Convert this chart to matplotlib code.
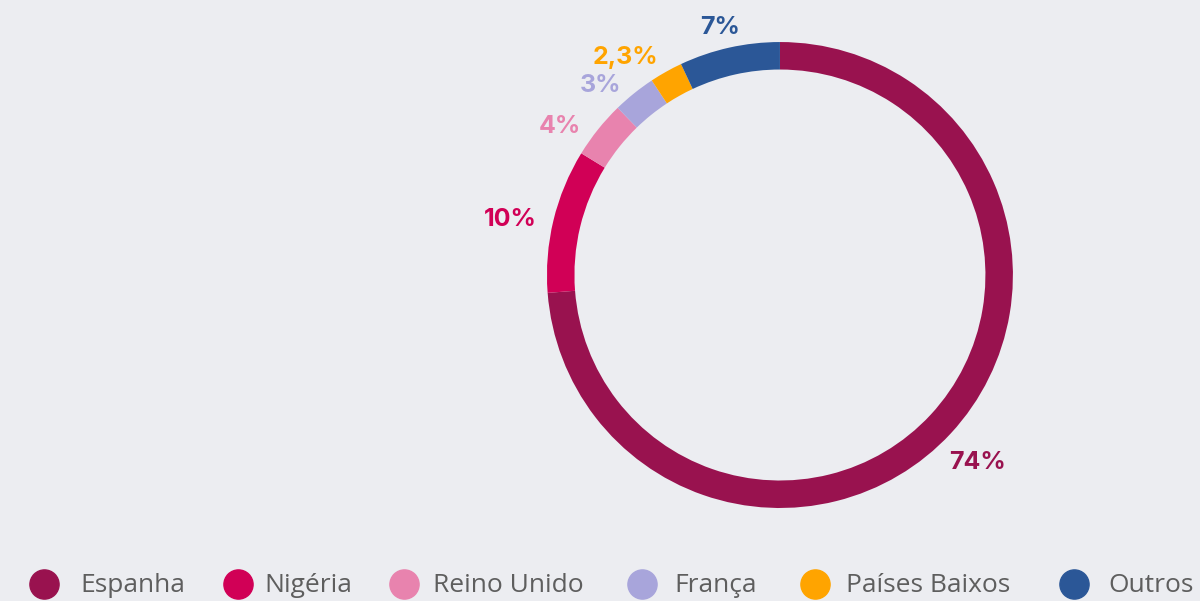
import matplotlib
matplotlib.use("Agg")
import matplotlib.pyplot as plt
import numpy as np

categories = ["Espanha", "Nigéria", "Reino Unido", "França", "Países Baixos", "Outros"]
values = [74, 10, 4, 3, 2.3, 7]
labels = ["74%", "10%", "4%", "3%", "2,3%", "7%"]
colors = ["#99124f", "#d10056", "#e883ae", "#a8a5db", "#ffa400", "#2b5797"]
bg = "#ecedf1"

# label placement tweaks (layout only)
label_angle_shift = [-0.7, 2.0, 4.7, 4.7, 6.1, 1.0]
label_dist = [1.17, 1.18, 1.14, 1.12, 1.147, 1.095]

fig = plt.figure(figsize=(12, 6.01), dpi=100, facecolor=bg)
ax = fig.add_axes([0.4558, 0.1547, 0.3883, 0.7754])
ax.set_facecolor(bg)
wedges, _ = ax.pie(values, colors=colors, startangle=90, counterclock=False,
                   wedgeprops=dict(width=0.118, edgecolor="none"))
for w, lab, c, sh, d in zip(wedges, labels, colors, label_angle_shift, label_dist):
    ang = np.deg2rad((w.theta1 + w.theta2) / 2 + sh)
    ax.text(d * np.cos(ang), d * np.sin(ang), lab, color=c, ha="center", va="center",
            fontsize=18, fontweight="bold", family=["Inter", "DejaVu Sans"])
ax.set_xlim(-1, 1)
ax.set_ylim(-1, 1)
ax.set_aspect("equal")
ax.axis("off")

# legend overlay
lax = fig.add_axes([0, 0, 1, 1], facecolor="none")
lax.set_xlim(0, 1200)
lax.set_ylim(601, 0)
lax.axis("off")
marker_x = [44, 238, 404, 642, 815, 1074]
text_x = [80, 264, 433, 674, 846, 1108]
for mx, tx, c, name in zip(marker_x, text_x, colors, categories):
    lax.plot([mx], [584], marker="o", markersize=21, color=c, linestyle="none", clip_on=False)
    lax.text(tx, 586, name, fontsize=19, color="#5e5e5e", va="center", ha="left",
             family=["Open Sans", "DejaVu Sans"])

fig.savefig("out.png", dpi=100, facecolor=bg)
